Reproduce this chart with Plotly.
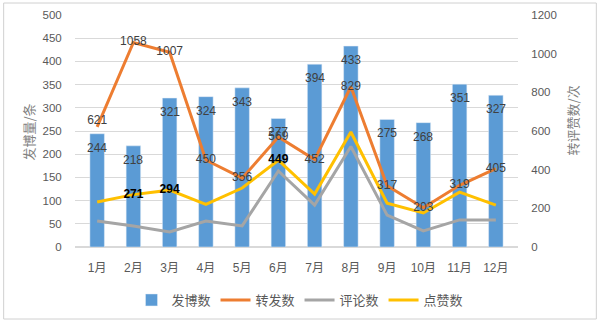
import plotly.graph_objects as go

# Monthly Weibo statistics
months = ["1月", "2月", "3月", "4月", "5月", "6月", "7月", "8月", "9月", "10月", "11月", "12月"]
posts = [244, 218, 321, 324, 343, 277, 394, 433, 275, 268, 351, 327]          # 发博数 (left axis)
reposts = [621, 1058, 1007, 450, 356, 569, 452, 829, 317, 203, 319, 405]      # 转发数 (right axis)
comments = [134, 109, 78, 134, 109, 393, 217, 520, 165, 83, 140, 140]         # 评论数 (right axis)
likes = [233, 271, 294, 220, 305, 449, 274, 595, 227, 176, 284, 217]          # 点赞数 (right axis)
likes_labeled = {1, 2, 5}

BLUE, ORANGE, GRAY, YELLOW = "#5B9BD5", "#ED7D31", "#A5A5A5", "#FFC000"
FONT = "Liberation Sans, Noto Sans CJK SC, sans-serif"
TICK_COLOR = "#595959"

fig = go.Figure()
fig.add_bar(x=months, y=posts, name="发博数", marker_color=BLUE, yaxis="y")
fig.add_scatter(x=months, y=reposts, name="转发数", mode="lines",
                line=dict(color=ORANGE, width=3), yaxis="y2")
fig.add_scatter(x=months, y=comments, name="评论数", mode="lines",
                line=dict(color=GRAY, width=3), yaxis="y2")
fig.add_scatter(x=months, y=likes, name="点赞数", mode="lines",
                line=dict(color=YELLOW, width=3), yaxis="y2")

# value labels for reposts and likes, drawn above the lines
fig.add_scatter(x=months, y=reposts, mode="text", yaxis="y2", showlegend=False,
                text=[str(v) for v in reposts],
                textposition=["top center"] + ["middle center"] * 11,
                textfont=dict(family=FONT, size=12, color="#404040"),
                hoverinfo="skip")
fig.add_scatter(x=months, y=likes, mode="text", yaxis="y2", showlegend=False,
                text=[f"<b>{v}</b>" if i in likes_labeled else "" for i, v in enumerate(likes)],
                textposition="middle center",
                textfont=dict(family=FONT, size=12, color="#000000"),
                hoverinfo="skip")

annotations = []
# labels just inside the top of each bar
for m, v in zip(months, posts):
    annotations.append(dict(x=m, y=v, xref="x", yref="y", text=str(v), showarrow=False,
                            yshift=-14, font=dict(family=FONT, size=12, color="#404040")))
# axis titles
annotations.append(dict(x=(27 - 74.5) / 444, y=(247 - 132) / 232, xref="paper", yref="paper",
                        xanchor="center", yanchor="middle", text="发博量/条",
                        textangle=-90, showarrow=False,
                        font=dict(family="Noto Sans CJK SC", size=13, color="#7F7F7F")))
annotations.append(dict(x=(573 - 74.5) / 444, y=(247 - 120) / 232, xref="paper", yref="paper",
                        xanchor="center", yanchor="middle", text="转评赞数/次",
                        textangle=-90, showarrow=False,
                        font=dict(family="Noto Sans CJK SC", size=13, color="#7F7F7F")))

fig.update_layout(
    width=600, height=322,
    margin=dict(l=74.5, r=81.5, t=15, b=75),
    paper_bgcolor="white", plot_bgcolor="white",
    font=dict(family=FONT, size=12, color=TICK_COLOR),
    bargap=0.6,
    showlegend=True,
    legend=dict(orientation="h", x=0.5, xanchor="center", xref="container",
                y=22 / 322, yanchor="middle", yref="container",
                font=dict(family=FONT, size=13, color=TICK_COLOR),
                itemwidth=30, tracegroupgap=0),
    xaxis=dict(type="category", showgrid=False, showline=False, zeroline=False,
               ticks="outside", ticklen=10, tickcolor="rgba(0,0,0,0)",
               tickfont=dict(size=12, color=TICK_COLOR), automargin=False),
    yaxis=dict(range=[0, 500], dtick=50, showgrid=True, gridcolor="#D9D9D9", gridwidth=1,
               zeroline=True, zerolinecolor="#D9D9D9", showline=False,
               ticks="outside", ticklen=10, tickcolor="rgba(0,0,0,0)",
               tickfont=dict(size=11.5, color=TICK_COLOR), automargin=False),
    yaxis2=dict(range=[0, 1200], dtick=200, overlaying="y", side="right",
                showgrid=False, zeroline=False, showline=False,
                ticks="outside", ticklen=10, tickcolor="rgba(0,0,0,0)",
                tickfont=dict(size=11.5, color=TICK_COLOR), automargin=False),
    annotations=annotations,
    shapes=[dict(type="rect", xref="paper", yref="paper",
                 x0=(3 - 74.5) / 444, x1=(597 - 74.5) / 444,
                 y0=(247 - 319) / 232, y1=(247 - 3) / 232,
                 line=dict(color="#D0D0D0", width=1), layer="below")],
)

fig.write_html("out.html")
